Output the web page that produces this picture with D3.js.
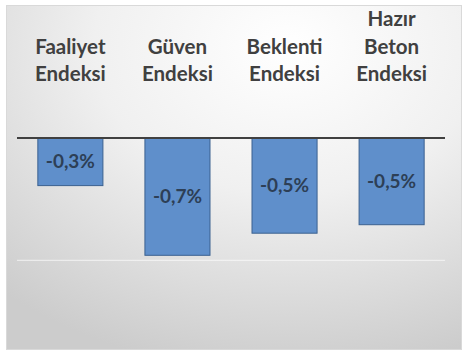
<!DOCTYPE html>
<html><head><meta charset="utf-8">
<script src="https://cdn.jsdelivr.net/npm/d3@7/dist/d3.min.js"></script>
<style>
html,body{margin:0;padding:0;background:#fff;}
svg{display:block;}
</style></head>
<body>
<script>
const categories = ["Faaliyet Endeksi", "Güven Endeksi", "Beklenti Endeksi", "Hazır Beton Endeksi"];
const categoryLines = [["Faaliyet","Endeksi"],["Güven","Endeksi"],["Beklenti","Endeksi"],["Hazır","Beton","Endeksi"]];
const values = [-0.28, -0.69, -0.56, -0.51];
const valueLabels = ["-0,3%", "-0,7%", "-0,5%", "-0,5%"];
const gridValues = [-0.72];

const W = 468, H = 359;
const svg = d3.select("body").append("svg").attr("width", W).attr("height", H);
const defs = svg.append("defs");
const grad = defs.append("radialGradient").attr("id","bg")
  .attr("cx","0.62").attr("cy","0.12").attr("r","0.95").attr("fx","0.62").attr("fy","0.12");
grad.append("stop").attr("offset","0").attr("stop-color","#ffffff");
grad.append("stop").attr("offset","0.45").attr("stop-color","#f0f0f0");
grad.append("stop").attr("offset","1").attr("stop-color","#cccccc");

svg.append("rect").attr("x",6.5).attr("y",5.5).attr("width",455).attr("height",344)
  .attr("fill","url(#bg)").attr("stroke","#d9d9d9").attr("stroke-width",1);

const x = d3.scaleBand().domain(categories).range([17, 445]).paddingInner(0.383).paddingOuter(0.19);
const y = d3.scaleLinear().domain([0, -1]).range([138, 308]);

// gridline
svg.selectAll("line.grid").data(gridValues).join("line").attr("class","grid")
  .attr("x1",17).attr("x2",445).attr("y1",d=>y(d)).attr("y2",d=>y(d))
  .attr("stroke","#ffffff").attr("stroke-opacity",0.55).attr("stroke-width",1.2);

// bars
svg.selectAll("rect.bar").data(values).join("rect").attr("class","bar")
  .attr("x",(d,i)=>x(categories[i])+0.5).attr("width",x.bandwidth()-1)
  .attr("y",y(0)).attr("height",d=>y(d)-y(0))
  .attr("fill","#5f8fcb").attr("stroke","#3b6190").attr("stroke-width",1);

// axis line
svg.append("line").attr("x1",17).attr("x2",445).attr("y1",y(0)).attr("y2",y(0))
  .attr("stroke","#404040").attr("stroke-width",2);

// value labels
svg.selectAll("text.val").data(values).join("text").attr("class","val")
  .attr("x",(d,i)=>x(categories[i])+x.bandwidth()/2)
  .attr("y",d=>(y(0)+y(d))/2 + 6.5)
  .attr("text-anchor","middle")
  .attr("font-family","Lato, 'Open Sans', sans-serif").attr("font-weight","bold")
  .attr("font-size","19px").attr("fill","#2d3f56")
  .text((d,i)=>valueLabels[i]);

// category labels
const g = svg.selectAll("g.cat").data(categories).join("g").attr("class","cat");
g.each(function(c,i){
  const lines = categoryLines[i];
  const cx = x(c)+x.bandwidth()/2;
  const t = d3.select(this).append("text").attr("text-anchor","middle")
    .attr("font-family","Lato, 'Open Sans', sans-serif").attr("font-weight","bold")
    .attr("font-size","20.5px").attr("fill","#404040");
  lines.forEach((l,j)=>{
    t.append("tspan").attr("x",cx).attr("y",81 - (lines.length-1-j)*27.5).text(l);
  });
});
</script>
</body></html>
